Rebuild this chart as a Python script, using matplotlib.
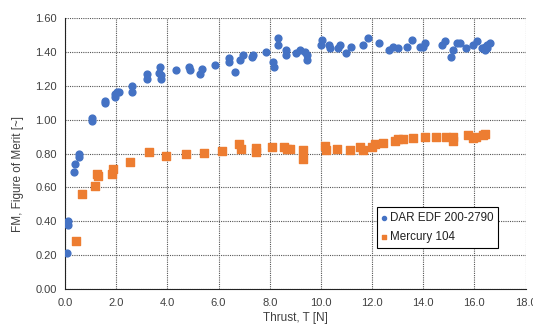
import matplotlib
matplotlib.use("Agg")
import matplotlib.pyplot as plt

plt.rcParams['font.family'] = ['Liberation Sans', 'DejaVu Sans']

# DAR EDF 200-2790 (blue circles)
dar_thrust = [0.08, 0.12, 0.12, 0.35, 0.39, 0.53, 0.53, 1.04, 1.04, 1.55, 1.55,
              1.94, 1.97, 2.03, 2.10, 2.63, 2.63, 3.20, 3.20, 3.66, 3.70, 3.76, 3.76,
              4.35, 4.86, 4.88, 5.28, 5.34, 5.86, 6.41, 6.41, 6.66, 6.84, 6.95,
              7.30, 7.34, 7.86, 8.14, 8.18, 8.31, 8.31, 8.64, 8.64, 9.03, 9.19,
              9.38, 9.45, 9.45, 10.00, 10.04, 10.33, 10.36, 10.68, 10.75, 11.00,
              11.17, 11.66, 11.86, 12.29, 12.68, 12.83, 13.03, 13.36, 13.55, 13.88,
              13.98, 14.07, 14.73, 14.86, 15.10, 15.18, 15.31, 15.44, 15.68, 15.96,
              16.09, 16.29, 16.42, 16.51, 16.61, 16.40, 16.48]
dar_fm = [0.215, 0.38, 0.40, 0.69, 0.74, 0.78, 0.795, 0.99, 1.01, 1.10, 1.11,
          1.13, 1.15, 1.16, 1.16, 1.16, 1.20, 1.24, 1.27, 1.275, 1.31, 1.26, 1.24,
          1.29, 1.31, 1.29, 1.27, 1.30, 1.32, 1.34, 1.36, 1.28, 1.35, 1.38,
          1.37, 1.38, 1.40, 1.34, 1.31, 1.44, 1.48, 1.38, 1.41, 1.39, 1.41,
          1.40, 1.38, 1.35, 1.44, 1.47, 1.44, 1.42, 1.42, 1.44, 1.39,
          1.43, 1.44, 1.48, 1.45, 1.41, 1.43, 1.42, 1.43, 1.47, 1.43,
          1.43, 1.45, 1.44, 1.46, 1.37, 1.41, 1.45, 1.45, 1.42, 1.44,
          1.46, 1.42, 1.43, 1.44, 1.45, 1.41, 1.42]

# Mercury 104 (orange squares)
merc_thrust = [0.43, 0.66, 1.17, 1.25, 1.29, 1.82, 1.86, 2.54, 3.27, 3.95,
               4.73, 5.45, 6.13, 6.81, 6.88, 7.47, 7.47, 8.08, 8.56, 8.66, 8.79,
               9.32, 9.32, 10.18, 10.20, 10.64, 11.14, 11.53, 11.64, 11.99, 12.12,
               12.44, 12.90, 13.03, 13.20, 13.59, 14.07, 14.50, 14.89, 15.18, 15.18,
               15.77, 15.96, 16.07, 16.33, 16.42]
merc_fm = [0.285, 0.56, 0.61, 0.68, 0.67, 0.68, 0.71, 0.75, 0.81, 0.785,
           0.80, 0.805, 0.815, 0.855, 0.826, 0.83, 0.81, 0.836, 0.836, 0.825, 0.825,
           0.82, 0.77, 0.845, 0.82, 0.825, 0.82, 0.836, 0.82, 0.84, 0.856,
           0.864, 0.875, 0.884, 0.884, 0.89, 0.895, 0.90, 0.895, 0.90, 0.875,
           0.91, 0.89, 0.90, 0.91, 0.915]

x_ticks = [0, 2, 4, 6, 8, 10, 12, 14, 16, 18]
y_ticks = [0.0, 0.2, 0.4, 0.6, 0.8, 1.0, 1.2, 1.4, 1.6]

blue = '#4472C4'
orange = '#ED7D31'
text_col = '#404040'

fig = plt.figure(figsize=(5.33, 3.27), dpi=100)
ax = fig.add_axes([0.122, 0.115, 0.864, 0.831])

ax.scatter(dar_thrust, dar_fm, s=24, marker='o', color=blue, label='DAR EDF 200-2790', zorder=3)
ax.scatter(merc_thrust, merc_fm, s=28, marker='s', color=orange, label='Mercury 104', zorder=3)

ax.set_xlim(0, 18)
ax.set_ylim(0, 1.6)
ax.set_xticks(x_ticks)
ax.set_yticks(y_ticks)
ax.set_xticklabels(['%.1f' % v for v in x_ticks])
ax.set_yticklabels(['%.2f' % v for v in y_ticks])
ax.tick_params(axis='x', length=0, labelsize=8, labelcolor=text_col, pad=6)
ax.tick_params(axis='y', length=0, labelsize=8, labelcolor=text_col, pad=6)
ax.grid(True, linestyle=(0, (1, 1)), color='#555555', linewidth=0.8)
ax.set_axisbelow(True)

ax.spines['top'].set_visible(False)
ax.spines['right'].set_visible(False)
ax.spines['left'].set_color('#222222')
ax.spines['bottom'].set_color('#222222')

ax.set_xlabel('Thrust, T [N]', fontsize=8.5, color=text_col, labelpad=3)
ax.set_ylabel('FM, Figure of Merit [~]', fontsize=8.5, color=text_col, labelpad=6)
ax.yaxis.set_label_coords(-0.09, 0.425)

leg = ax.legend(loc='lower left', bbox_to_anchor=(0.677, 0.152), fontsize=8.4,
                fancybox=False, framealpha=1, edgecolor='black',
                handlelength=0.5, handletextpad=0.2, markerscale=0.6,
                borderpad=0.4, borderaxespad=0, labelspacing=0.65)
leg.get_frame().set_linewidth(0.8)
for t in leg.get_texts():
    t.set_color('#222222')

fig.savefig('out.png', dpi=100)
